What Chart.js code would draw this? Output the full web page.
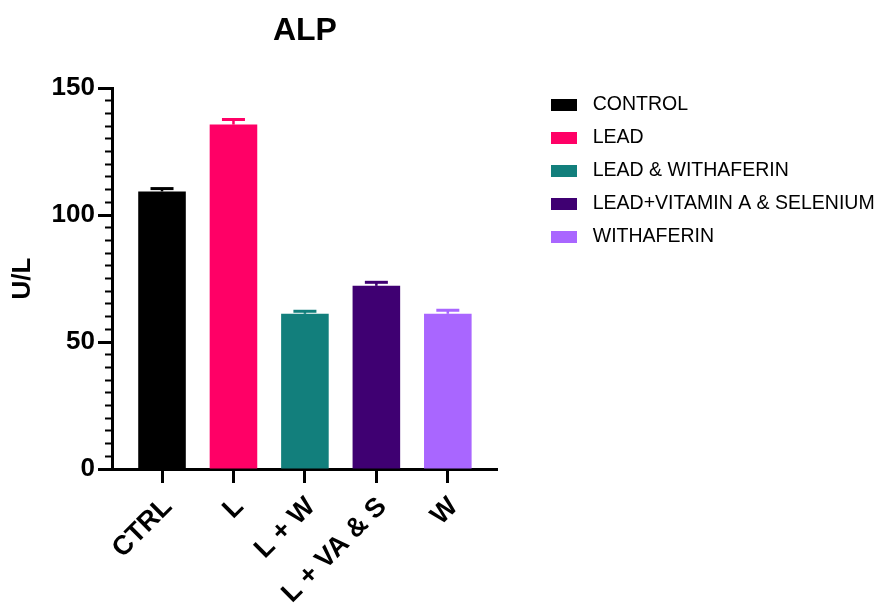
<!DOCTYPE html>
<html>
<head>
<meta charset="utf-8">
<script src="https://cdn.jsdelivr.net/npm/chart.js@4/dist/chart.umd.min.js"></script>
<style>
  html, body { margin: 0; padding: 0; background: #ffffff; }
  #wrap { width: 883px; height: 609px; position: relative; }
</style>
</head>
<body>
<div id="wrap"><canvas id="c"></canvas></div>
<script>
// ---- data ----
const categories = ['CTRL', 'L', 'L + W', 'L + VA & S', 'W'];
const legendLabels = ['CONTROL', 'LEAD', 'LEAD & WITHAFERIN', 'LEAD+VITAMIN A & SELENIUM', 'WITHAFERIN'];
const values = [109.3, 135.6, 61.1, 72.1, 61.1];
const errors = [1.1, 2.0, 1.0, 1.4, 1.4];
const colors = ['#000000', '#FF0066', '#127F7C', '#3F0072', '#A966FF'];
const yMajorTicks = [0, 50, 100, 150];
const chartTitle = 'ALP';
const yTitle = 'U/L';

// ---- layout constants ----
const FONT = '"Liberation Sans", Arial, Helvetica, sans-serif';
const PLOT_LEFT = 112, PLOT_RIGHT = 497, PLOT_TOP = 88, PLOT_BOTTOM = 469;
const W = 883, H = 609;
const LEG_SIZE = 19.5, LEG_PAD = 13.5, SW_W = 32, SW_BOX = 26, SW_H = 12;
const LEG_X = 551, LEG_FIRST_CENTER = 104.5;

// legend swatches (box + transparent gap)
const swatches = colors.map(c => {
  const cv = document.createElement('canvas');
  cv.width = SW_W; cv.height = SW_H;
  const cx = cv.getContext('2d');
  cx.fillStyle = c;
  cx.fillRect(0, 0, SW_BOX, SW_H);
  return cv;
});

// compute legend width so the plot's right edge lands where wanted
const meas = document.createElement('canvas').getContext('2d');
meas.font = 'normal ' + LEG_SIZE + 'px ' + FONT;
let maxTW = 0;
legendLabels.forEach(t => { maxTW = Math.max(maxTW, meas.measureText(t).width); });
const legendWidth = Math.ceil(LEG_PAD + (SW_W + LEG_SIZE / 2 + maxTW) + 10);
const padRight = Math.max(0, W - PLOT_RIGHT - legendWidth);

const errorBarPlugin = {
  id: 'errorBars',
  afterDatasetsDraw(chart) {
    const ctx = chart.ctx;
    const xs = chart.scales.x, ys = chart.scales.y;
    ctx.save();
    values.forEach((v, i) => {
      const x = xs.getPixelForValue(i);
      const yTop = ys.getPixelForValue(v);
      const yErr = ys.getPixelForValue(v + errors[i]);
      ctx.strokeStyle = colors[i];
      ctx.lineWidth = 2.5;
      ctx.beginPath();
      ctx.moveTo(x, yTop);
      ctx.lineTo(x, yErr);
      ctx.stroke();
      ctx.lineWidth = 3;
      ctx.beginPath();
      ctx.moveTo(x - 11.5, yErr);
      ctx.lineTo(x + 11.5, yErr);
      ctx.stroke();
    });
    ctx.restore();
  }
};

const titlePlugin = {
  id: 'plotTitle',
  afterDraw(chart) {
    const ctx = chart.ctx;
    const ca = chart.chartArea;
    ctx.save();
    ctx.font = 'bold 32px ' + FONT;
    ctx.fillStyle = '#000';
    ctx.textAlign = 'center';
    ctx.textBaseline = 'alphabetic';
    ctx.fillText(chartTitle, (ca.left + ca.right) / 2, 40);
    ctx.restore();
  }
};

const legendShift = {
  id: 'legendShift',
  afterLayout(chart) {
    const lg = chart.legend;
    if (!lg) return;
    const w = lg.width;
    lg.left = LEG_X - LEG_PAD;
    lg.right = Math.min(W, lg.left + w + 20);
    lg.width = lg.right - lg.left;
    lg.top = LEG_FIRST_CENTER - LEG_PAD - LEG_SIZE / 2;
  }
};

new Chart(document.getElementById('c'), {
  type: 'bar',
  data: {
    datasets: [{
      data: values.map((v, i) => ({ x: i, y: v })),
      backgroundColor: colors,
      borderWidth: 0,
      categoryPercentage: 1.0,
      barPercentage: 0.666
    }]
  },
  plugins: [errorBarPlugin, titlePlugin, legendShift],
  options: {
    responsive: true,
    maintainAspectRatio: false,
    animation: false,
    layout: { padding: { top: PLOT_TOP, right: padRight, bottom: 0, left: 0 } },
    plugins: {
      title: { display: false },
      tooltip: { enabled: false },
      legend: {
        display: true,
        position: 'right',
        align: 'start',
        maxWidth: 600,
        labels: {
          usePointStyle: true,
          pointStyleWidth: SW_W,
          boxWidth: SW_W,
          boxHeight: SW_H,
          padding: LEG_PAD,
          color: '#000',
          font: { family: FONT, size: LEG_SIZE, weight: 'normal' },
          generateLabels: () => legendLabels.map((t, i) => ({
            text: t, fillStyle: colors[i], strokeStyle: colors[i], lineWidth: 0,
            pointStyle: swatches[i], hidden: false, index: i, datasetIndex: 0
          }))
        }
      }
    },
    scales: {
      x: {
        type: 'linear',
        min: -0.7,
        max: categories.length - 0.3,
        offset: false,
        bounds: 'data',
        afterBuildTicks: s => { s.ticks = categories.map((c, i) => ({ value: i })); },
        afterFit: s => { s.height = H - PLOT_BOTTOM; },
        grid: { display: true, offset: false, drawOnChartArea: false, drawTicks: true, tickLength: 14, tickWidth: 3, tickColor: '#000' },
        border: { display: true, width: 3, color: '#000' },
        ticks: {
          autoSkip: false,
          minRotation: 45, maxRotation: 45,
          padding: 8,
          labelOffset: 6,
          color: '#000',
          font: { family: FONT, size: 27, weight: 'bold' },
          callback: v => categories[v]
        }
      },
      y: {
        position: 'left',
        weight: 1,
        min: 0, max: 150,
        afterBuildTicks: s => { s.ticks = yMajorTicks.map(v => ({ value: v })); },
        afterFit: s => { s.width = PLOT_LEFT; },
        grid: { display: true, drawOnChartArea: false, drawTicks: true, tickLength: 14, tickWidth: 3, tickColor: '#000' },
        border: { display: true, width: 3, color: '#000' },
        ticks: { padding: 3, color: '#000', font: { family: FONT, size: 26, weight: 'bold' } },
        title: { display: true, text: yTitle, color: '#000', font: { family: FONT, size: 26, weight: 'bold' }, padding: { top: 7, bottom: 0 } }
      },
      yMinor: {
        position: 'left',
        weight: 0,
        min: 0, max: 150,
        ticks: { display: false, stepSize: 5 },
        afterFit: s => { s.width = 0; },
        grid: { display: true, drawOnChartArea: false, drawTicks: true, tickLength: 7, tickWidth: 2, tickColor: '#000' },
        border: { display: false }
      }
    }
  }
});
</script>
</body>
</html>
